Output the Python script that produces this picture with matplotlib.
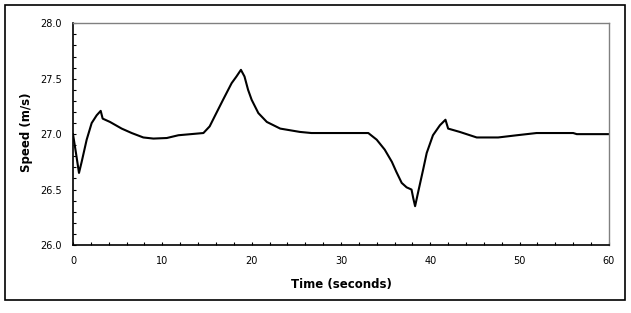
import matplotlib

matplotlib.use("Agg")
import matplotlib.pyplot as plt
from matplotlib.patches import Rectangle
from matplotlib.ticker import MultipleLocator

# values
time_s = [0.0, 0.35, 0.67, 0.97, 1.53, 2.09, 2.65, 3.1, 3.32, 4.14, 5.45, 6.57, 7.87,
          9.0, 10.5, 11.8, 13.2, 14.6, 15.3, 15.86, 16.8, 17.76, 18.3, 18.8, 19.2,
          19.6, 20.0, 20.75, 21.7, 23.2, 25.4, 26.7, 33.06, 34.0, 34.9, 35.7, 36.2,
          36.8, 37.35, 37.9, 38.1, 38.3, 38.65, 39.2, 39.6, 40.3, 41.08, 41.7, 42.0,
          43.3, 45.2, 47.6, 49.7, 51.9, 56.0, 56.4, 60.0]
speed = [27.0, 26.82, 26.65, 26.75, 26.95, 27.10, 27.17, 27.21, 27.14, 27.11, 27.05,
         27.01, 26.97, 26.96, 26.965, 26.99, 27.0, 27.01, 27.07, 27.16, 27.31, 27.46,
         27.52, 27.58, 27.52, 27.40, 27.31, 27.19, 27.11, 27.05, 27.02, 27.01, 27.01,
         26.95, 26.86, 26.75, 26.66, 26.56, 26.52, 26.50, 26.42, 26.35, 26.48, 26.68,
         26.83, 26.99, 27.08, 27.13, 27.05, 27.02, 26.97, 26.97, 26.99, 27.01, 27.01,
         27.0, 27.0]

fig = plt.figure(figsize=(6.31, 3.13), dpi=100)
ax = fig.add_axes([0.1157, 0.2173, 0.8493, 0.7083])

ax.plot(time_s, speed, color="black", linewidth=1.5)

ax.set_xlim(0, 60)
ax.set_ylim(26.0, 28.0)
ax.xaxis.set_major_locator(MultipleLocator(10))
ax.xaxis.set_minor_locator(MultipleLocator(2))
ax.yaxis.set_major_locator(MultipleLocator(0.5))
ax.yaxis.set_minor_locator(MultipleLocator(0.1))
ax.yaxis.set_major_formatter(plt.FormatStrFormatter("%.1f"))

ax.tick_params(which="both", direction="in", length=2.5, width=0.8,
               labelsize=7, top=False, right=False)
ax.tick_params(axis="y", pad=8)
ax.tick_params(axis="x", pad=8)

for side in ["left", "bottom"]:
    ax.spines[side].set_color("black")
    ax.spines[side].set_linewidth(1.2)
for side in ["top", "right"]:
    ax.spines[side].set_color("#808080")
    ax.spines[side].set_linewidth(1.0)

ax.set_xlabel("Time (seconds)", fontsize=8.5, fontweight="bold")
ax.set_ylabel("Speed (m/s)", fontsize=8.5, fontweight="bold")
ax.xaxis.set_label_coords(0.5, -0.149)
ax.yaxis.set_label_coords(-0.075, 0.51)

# outer chart border
fig.patches.append(Rectangle((5 / 631, 13 / 313), 620 / 631, 295 / 313,
                             transform=fig.transFigure, fill=False,
                             edgecolor="black", linewidth=1.2))

fig.savefig("out.png", dpi=100)
